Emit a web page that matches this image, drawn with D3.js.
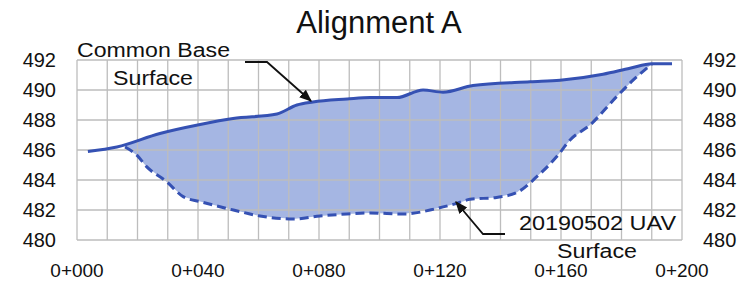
<!DOCTYPE html>
<html>
<head>
<meta charset="utf-8">
<script src="https://cdn.jsdelivr.net/npm/d3@7"></script>
<style>
  body { margin: 0; background: #fff; }
  text { font-family: "Liberation Sans", Arial, sans-serif; fill: #111; }
</style>
</head>
<body>
<script>
// stations (m) and elevations
const baseStations = [3.6, 13.2, 27.4, 40.7, 51.6, 66.1, 72.7, 78.0, 89.3, 96.9, 105.8, 114.4, 121.0, 130.9, 149.8, 159.7, 173.9, 182.8, 190.1, 196.7];
const baseElev     = [485.9, 486.2, 487.1, 487.7, 488.1, 488.4, 489.0, 489.2, 489.4, 489.5, 489.5, 490.0, 489.85, 490.3, 490.55, 490.65, 491.05, 491.45, 491.75, 491.75];

const uavStations = [15.9, 19.7, 23.0, 29.6, 35.1, 40.7, 51.7, 60.5, 71.5, 80.3, 89.2, 96.9, 107.9, 118.9, 125.5, 129.9, 138.7, 145.4, 152.0, 158.6, 163.0, 169.6, 178.4, 183.9, 190.1];
const uavElev     = [486.2, 485.67, 484.89, 483.89, 482.89, 482.56, 482.0, 481.6, 481.4, 481.6, 481.73, 481.8, 481.73, 482.1, 482.44, 482.71, 482.84, 483.16, 484.22, 485.56, 486.67, 487.67, 489.56, 490.67, 491.75];

const xTicks = [0, 40, 80, 120, 160, 200];
const yTicks = [480, 482, 484, 486, 488, 490, 492];
const xGrid = d3.range(0, 201, 10);

const width = 742, height = 288;
const x = d3.scaleLinear().domain([0, 200]).range([77, 682]);
const y = d3.scaleLinear().domain([480, 492]).range([240, 60]);

const svg = d3.select('body').append('svg')
  .attr('width', width)
  .attr('height', height);

const base = baseStations.map((s, i) => [s, baseElev[i]]);
const uav = uavStations.map((s, i) => [s, uavElev[i]]);

// fill between the surfaces: base line forward, UAV line back
const basePart = base.filter(d => d[0] >= uavStations[0]);
const startBase = d3.scaleLinear().domain(baseStations).range(baseElev)(uavStations[0]);
const poly = [[uavStations[0], startBase]].concat(basePart, uav.slice().reverse());

svg.append('path')
  .attr('d', d3.line().x(d => x(d[0])).y(d => y(d[1]))(poly) + 'Z')
  .attr('fill', '#a5b6e3');

// grid
svg.append('g').selectAll('line')
  .data(xGrid).enter().append('line')
  .attr('x1', d => x(d)).attr('x2', d => x(d))
  .attr('y1', y(492)).attr('y2', y(480))
  .attr('stroke', '#bdbdbd').attr('stroke-width', 1.3);
svg.append('g').selectAll('line')
  .data(yTicks).enter().append('line')
  .attr('x1', x(0)).attr('x2', x(200))
  .attr('y1', d => y(d)).attr('y2', d => y(d))
  .attr('stroke', '#bdbdbd').attr('stroke-width', 1.3);

const line = d3.line().curve(d3.curveMonotoneX).x(d => x(d[0])).y(d => y(d[1]));

svg.append('path')
  .attr('d', line(uav))
  .attr('fill', 'none')
  .attr('stroke', '#3551b3')
  .attr('stroke-width', 3)
  .attr('stroke-dasharray', '9,5');

svg.append('path')
  .attr('d', line(base))
  .attr('fill', 'none')
  .attr('stroke', '#3551b3')
  .attr('stroke-width', 3)
  .attr('stroke-linejoin', 'round');

// axes labels
svg.append('g').selectAll('text')
  .data(yTicks).enter().append('text')
  .attr('x', 56).attr('y', d => y(d) + 7)
  .attr('text-anchor', 'end')
  .attr('font-size', 20)
  .text(d => d);
svg.append('g').selectAll('text')
  .data(yTicks).enter().append('text')
  .attr('x', 703).attr('y', d => y(d) + 7)
  .attr('font-size', 20)
  .text(d => d);
svg.append('g').selectAll('text')
  .data(xTicks).enter().append('text')
  .attr('x', d => x(d)).attr('y', 277)
  .attr('text-anchor', 'middle')
  .attr('font-size', 19)
  .text(d => '0+' + d3.format('03d')(d));

svg.append('text')
  .attr('x', 379).attr('y', 33)
  .attr('text-anchor', 'middle')
  .attr('font-size', 31)
  .text('Alignment A');

// annotations
svg.append('defs').append('marker')
  .attr('id', 'arr').attr('viewBox', '0 0 10 10')
  .attr('refX', 9).attr('refY', 5)
  .attr('markerWidth', 7).attr('markerHeight', 7)
  .attr('orient', 'auto')
  .append('path').attr('d', 'M0,1L10,5L0,9Z').attr('fill', '#111');

const note = (tx, ty, len, s) => svg.append('text')
  .attr('x', tx).attr('y', ty).attr('font-size', 20)
  .attr('textLength', len).attr('lengthAdjust', 'spacingAndGlyphs')
  .text(s);

note(77, 57, 153, 'Common Base');
note(113, 85, 80, 'Surface');
svg.append('polyline')
  .attr('points', [[245, 62], [267, 62], [311, 101]].join(' '))
  .attr('fill', 'none').attr('stroke', '#111').attr('stroke-width', 1.8)
  .attr('marker-end', 'url(#arr)');

note(519, 230, 157, '20190502 UAV');
note(557, 258, 80, 'Surface');
svg.append('polyline')
  .attr('points', [[505, 234], [483, 234], [456, 202]].join(' '))
  .attr('fill', 'none').attr('stroke', '#111').attr('stroke-width', 1.8)
  .attr('marker-end', 'url(#arr)');
</script>
</body>
</html>
